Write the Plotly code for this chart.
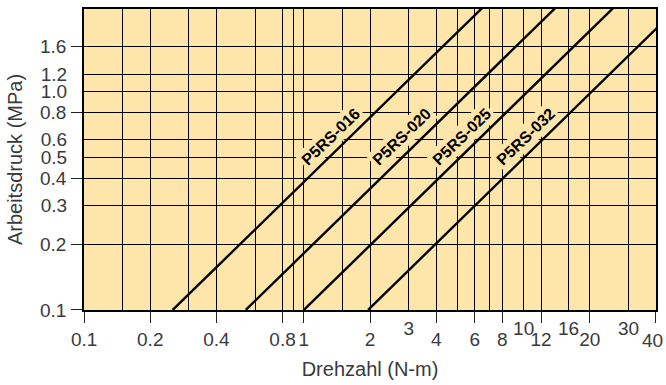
import math
import plotly.graph_objects as go

# ---- data ----
series_names = ["P5RS-016", "P5RS-020", "P5RS-025", "P5RS-032"]
pressure_pts = [0.1, 2.5]                 # MPa
torque_016 = [0.253, 6.74]                # N-m
torque_020 = [0.544, 14.5]
torque_025 = [1.0, 26.6]
torque_032 = [1.96, 52.1]
series_torques = [torque_016, torque_020, torque_025, torque_032]

label_pressure = 0.62
label_torque = [1.33, 2.80, 5.25, 10.26]

x_tick_vals = [0.1, 0.2, 0.4, 0.8, 1, 2, 4, 6, 8, 12, 20, 40]
x_tick_text = ["0.1", "0.2", "0.4", "0.8", "1", "2", "4", "6", "8", "12", "20", "40"]
x_raised_vals = [3, 10, 16, 30]
x_raised_text = ["3", "10", "16", "30"]
x_grid_vals = [0.15, 0.2, 0.3, 0.4, 0.6, 0.8, 0.9, 1, 1.5, 2, 3, 4, 5, 6, 7, 8,
               10, 12, 16, 20, 30, 40]

y_tick_vals = [0.1, 0.2, 0.4, 0.8, 1.6]
y_tick_text = ["0.1", "0.2", "0.4", "0.8", "1.6"]
y_plain_vals = [0.3, 0.5, 0.6, 1.0, 1.2]
y_plain_text = ["0.3", "0.5", "0.6", "1.0", "1.2"]

x_range = [0.0999, 40.02]
y_range = [0.0999, 2.38]

# ---- style ----
BG = "#fee6aa"
FONT = "Liberation Sans"
TICK_FONT = dict(family=FONT, size=19, color="#3a3a3a")
TITLE_FONT = dict(family=FONT, size=20, color="#3a3a3a")

fig = go.Figure()
for name, tq in zip(series_names, series_torques):
    fig.add_trace(go.Scatter(x=tq, y=pressure_pts, mode="lines", name=name,
                             line=dict(color="black", width=2.4),
                             showlegend=False, hoverinfo="skip"))
# helper (empty) trace so the overlay axes are drawn
fig.add_trace(go.Scatter(x=[], y=[], xaxis="x2", yaxis="y2", showlegend=False))

lx = [math.log10(v) for v in x_range]
ly = [math.log10(v) for v in y_range]

# the last x label sits at the right edge of the figure: draw it as an
# annotation anchored at its tick so it is not dropped for overflowing
axis_ticktext = x_tick_text[:-1] + [""]
edge_val, edge_text = x_tick_vals[-1], x_tick_text[-1]

fig.update_layout(
    width=666, height=385,
    margin=dict(l=84, r=10, t=7, b=75),
    paper_bgcolor="white", plot_bgcolor=BG,
    font=dict(family=FONT, color="#3a3a3a"),
    xaxis=dict(type="log", range=lx, tickvals=x_tick_vals, ticktext=axis_ticktext,
               ticks="outside", ticklen=11, tickwidth=1.2, tickcolor="#222",
               tickfont=TICK_FONT, ticklabelstandoff=0,
               showgrid=True, gridcolor="black", gridwidth=1,
               minor=dict(tickvals=x_grid_vals, showgrid=True, gridcolor="black",
                          gridwidth=1, ticks=""),
               showline=True, linecolor="black", linewidth=1.5, mirror=True,
               zeroline=False,
               title=dict(text="Drehzahl (N-m)", font=TITLE_FONT, standoff=13)),
    xaxis2=dict(type="log", range=lx, overlaying="x", side="bottom", anchor="y",
                tickvals=x_raised_vals, ticktext=x_raised_text, ticks="",
                tickfont=TICK_FONT, ticklabelstandoff=5, showgrid=False,
                showline=False, zeroline=False),
    yaxis=dict(type="log", range=ly, tickvals=y_tick_vals, ticktext=y_tick_text,
               ticks="outside", ticklen=11, tickwidth=1.2, tickcolor="#222",
               tickfont=TICK_FONT, ticklabelstandoff=1,
               showgrid=True, gridcolor="black", gridwidth=1,
               showline=True, linecolor="black", linewidth=1.5, mirror=True,
               zeroline=False,
               title=dict(text="Arbeitsdruck (MPa)", font=TITLE_FONT, standoff=12)),
    yaxis2=dict(type="log", range=ly, overlaying="y", side="left", anchor="x",
                tickvals=y_plain_vals, ticktext=y_plain_text,
                ticks="outside", ticklen=11, tickcolor="rgba(0,0,0,0)",
                tickfont=TICK_FONT, ticklabelstandoff=1,
                showgrid=True, gridcolor="black", gridwidth=1,
                showline=False, zeroline=False),
)

fig.add_annotation(x=math.log10(edge_val), y=0, xref="x", yref="paper",
                   text=edge_text, showarrow=False, font=TICK_FONT,
                   xanchor="right", yanchor="middle", xshift=9, yshift=-30)

for name, t in zip(series_names, label_torque):
    fig.add_annotation(x=math.log10(t), y=math.log10(label_pressure), xref="x", yref="y",
                       text="<b>" + name + "</b>", showarrow=False, textangle=-44,
                       font=dict(family=FONT, size=16, color="black"),
                       bgcolor=BG, borderpad=2, xanchor="center", yanchor="middle")

fig.write_html("out.html", config={"displayModeBar": False},
               post_script="document.body.style.margin='0px';")
